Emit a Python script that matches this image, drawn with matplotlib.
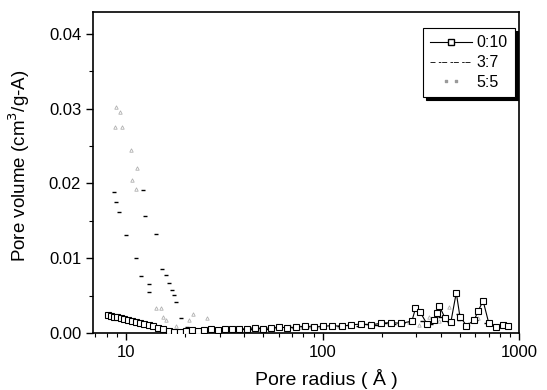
import matplotlib
matplotlib.use('Agg')
import matplotlib.pyplot as plt
from matplotlib.lines import Line2D
from matplotlib.ticker import MultipleLocator, FixedLocator, NullFormatter

plt.rcParams['font.family'] = ['Liberation Sans', 'DejaVu Sans']

# 0:10 sample (open squares joined by a line)
r_010 = [8.1, 8.4, 8.7, 9.0, 9.4, 9.8, 10.2, 10.7, 11.2, 11.8, 12.4, 13.1, 13.8, 14.6,
         15.5, 16.5, 17.6, 18.8, 20.1, 21.6, 23.3, 25.1, 27.1, 29.4, 31.9, 34.7, 37.8,
         41.3, 45.2, 49.6, 54.5, 60.0, 66.3, 73.4, 81.4, 90.5, 101, 112, 125, 140, 157,
         176, 198, 223, 252, 285, 297, 314, 340, 370, 384, 393, 420, 450, 479, 500, 540,
         590, 620, 656, 700, 760, 830, 880]
v_010 = [0.0024, 0.0023, 0.0022, 0.0021, 0.0020, 0.0019, 0.0018, 0.0016, 0.0015, 0.0014,
         0.0012, 0.0011, 0.0009, 0.0007, 0.0005, 0.0003, 0.0002, 0.0002, 0.0003, 0.0004,
         0.0003, 0.0004, 0.0005, 0.0004, 0.0005, 0.0006, 0.0005, 0.0006, 0.0007, 0.0006,
         0.0007, 0.0008, 0.0007, 0.0008, 0.0009, 0.0008, 0.0009, 0.0010, 0.0009, 0.0011,
         0.0012, 0.0011, 0.0013, 0.0014, 0.0013, 0.0016, 0.0033, 0.0028, 0.0012, 0.0018,
         0.0027, 0.0036, 0.0020, 0.0015, 0.0054, 0.0022, 0.0010, 0.0017, 0.0030, 0.0043,
         0.0014, 0.0008, 0.0011, 0.0009]

# 3:7 sample (dark dashes, the connecting line is mostly lost in the scan)
r_37 = [8.7, 8.9, 9.2, 10.0, 11.2, 11.9, 12.2, 12.5, 13.1, 13.1, 14.2, 15.2, 16.0, 16.5,
        17.1, 17.5, 17.9, 19.0, 20.5, 22, 24, 26.5, 29, 32, 35.5, 39, 43, 48, 53, 59, 65,
        72, 80, 89, 99, 110, 122, 136, 151, 168, 187, 208, 232, 258, 287, 320, 356, 396,
        440, 490, 545, 606, 675, 750, 835]
v_37 = [0.0188, 0.0175, 0.0162, 0.0131, 0.0100, 0.0076, 0.0191, 0.0156, 0.0066, 0.0055,
        0.0132, 0.0086, 0.0078, 0.0067, 0.0058, 0.0051, 0.0041, 0.0020, 0.0008, 0.0004,
        0.0003, 0.0004, 0.0005, 0.0004, 0.0005, 0.0006, 0.0005, 0.0007, 0.0006, 0.0007,
        0.0008, 0.0007, 0.0009, 0.0008, 0.0009, 0.0010, 0.0009, 0.0011, 0.0010, 0.0012,
        0.0011, 0.0013, 0.0012, 0.0014, 0.0013, 0.0016, 0.0012, 0.0022, 0.0015, 0.0026,
        0.0011, 0.0018, 0.0013, 0.0009, 0.0010]

# 5:5 sample (faint grey triangles)
r_55 = [8.8, 8.9, 9.3, 9.5, 10.6, 10.7, 11.2, 11.4, 14.2, 15.0, 15.4, 16.0, 18, 21, 21.9,
        26, 30, 34, 38, 43, 48, 54, 61, 68, 77, 86, 97, 109, 122, 137, 154, 173, 194, 218,
        245, 275, 309, 347, 390, 438, 492, 552, 620, 697, 783, 870]
v_55 = [0.0276, 0.0302, 0.0296, 0.0276, 0.0245, 0.0205, 0.0193, 0.0220, 0.0033, 0.0033,
        0.0021, 0.0017, 0.0010, 0.0017, 0.0025, 0.0020, 0.0006, 0.0005, 0.0006, 0.0007,
        0.0006, 0.0008, 0.0007, 0.0009, 0.0008, 0.0010, 0.0009, 0.0011, 0.0010, 0.0012,
        0.0011, 0.0013, 0.0012, 0.0014, 0.0013, 0.0015, 0.0011, 0.0021, 0.0016, 0.0035,
        0.0019, 0.0012, 0.0020, 0.0014, 0.0010, 0.0008]

labels = ['0:10', '3:7', '5:5']

fig = plt.figure(figsize=(5.47, 3.90), dpi=100)
ax = fig.add_axes([0.170, 0.146, 0.779, 0.823])

ax.plot(r_55, v_55, linestyle='none', marker='^', markersize=2.5, mfc='none',
        mec='#b0b0b0', mew=0.6, zorder=2)
ax.plot(r_37, v_37, linestyle='none', marker='_', markersize=2.5, color='black',
        mew=1.0, zorder=3)
ax.plot(r_010, v_010, color='black', lw=0.8, marker='s', markersize=5, mfc='white',
        mec='black', mew=0.8, zorder=4)

ax.set_xscale('log')
ax.set_xlim(6.8, 1000)
ax.set_ylim(0, 0.0429)

ax.yaxis.set_major_locator(MultipleLocator(0.01))
ax.yaxis.set_minor_locator(MultipleLocator(0.005))
ax.yaxis.set_major_formatter(matplotlib.ticker.FormatStrFormatter('%.2f'))
ax.xaxis.set_major_locator(FixedLocator([10, 100, 1000]))
ax.xaxis.set_major_formatter(matplotlib.ticker.FuncFormatter(lambda v, p: '%d' % v))
ax.xaxis.set_minor_locator(matplotlib.ticker.LogLocator(subs=range(2, 10)))
ax.xaxis.set_minor_formatter(NullFormatter())

ax.tick_params(which='major', direction='out', length=5, width=1.0, labelsize=12,
               colors='black')
ax.tick_params(which='minor', direction='out', length=3, width=0.8)
for s in ax.spines.values():
    s.set_linewidth(1.2)

ax.set_xlabel('Pore radius ( Å )', fontsize=14)
ax.set_ylabel('Pore volume (cm$^3$/g-A)', fontsize=13.5)
ax.xaxis.set_label_coords(0.547, -0.112)
ax.yaxis.set_label_coords(-0.143, 0.52)

handles = [
    Line2D([], [], color='black', lw=0.8, marker='s', markersize=5, mfc='white', mec='black'),
    Line2D([], [], color='black', lw=0.6, dashes=(6, 4, 3, 1)),
    Line2D([], [], color='#9a9a9a', lw=0, marker=r'$\cdot\ \cdot$', markersize=8),
]
leg = ax.legend(handles, labels, loc='upper right', bbox_to_anchor=(0.99, 0.95),
                borderaxespad=0, fontsize=11.5, frameon=True, fancybox=False,
                edgecolor='black', shadow={'color': 'black', 'alpha': 1},
                handlelength=2.6, borderpad=0.45, labelspacing=0.3, handletextpad=0.3)
leg.get_frame().set_linewidth(0.8)

fig.savefig('out.png', dpi=100)
